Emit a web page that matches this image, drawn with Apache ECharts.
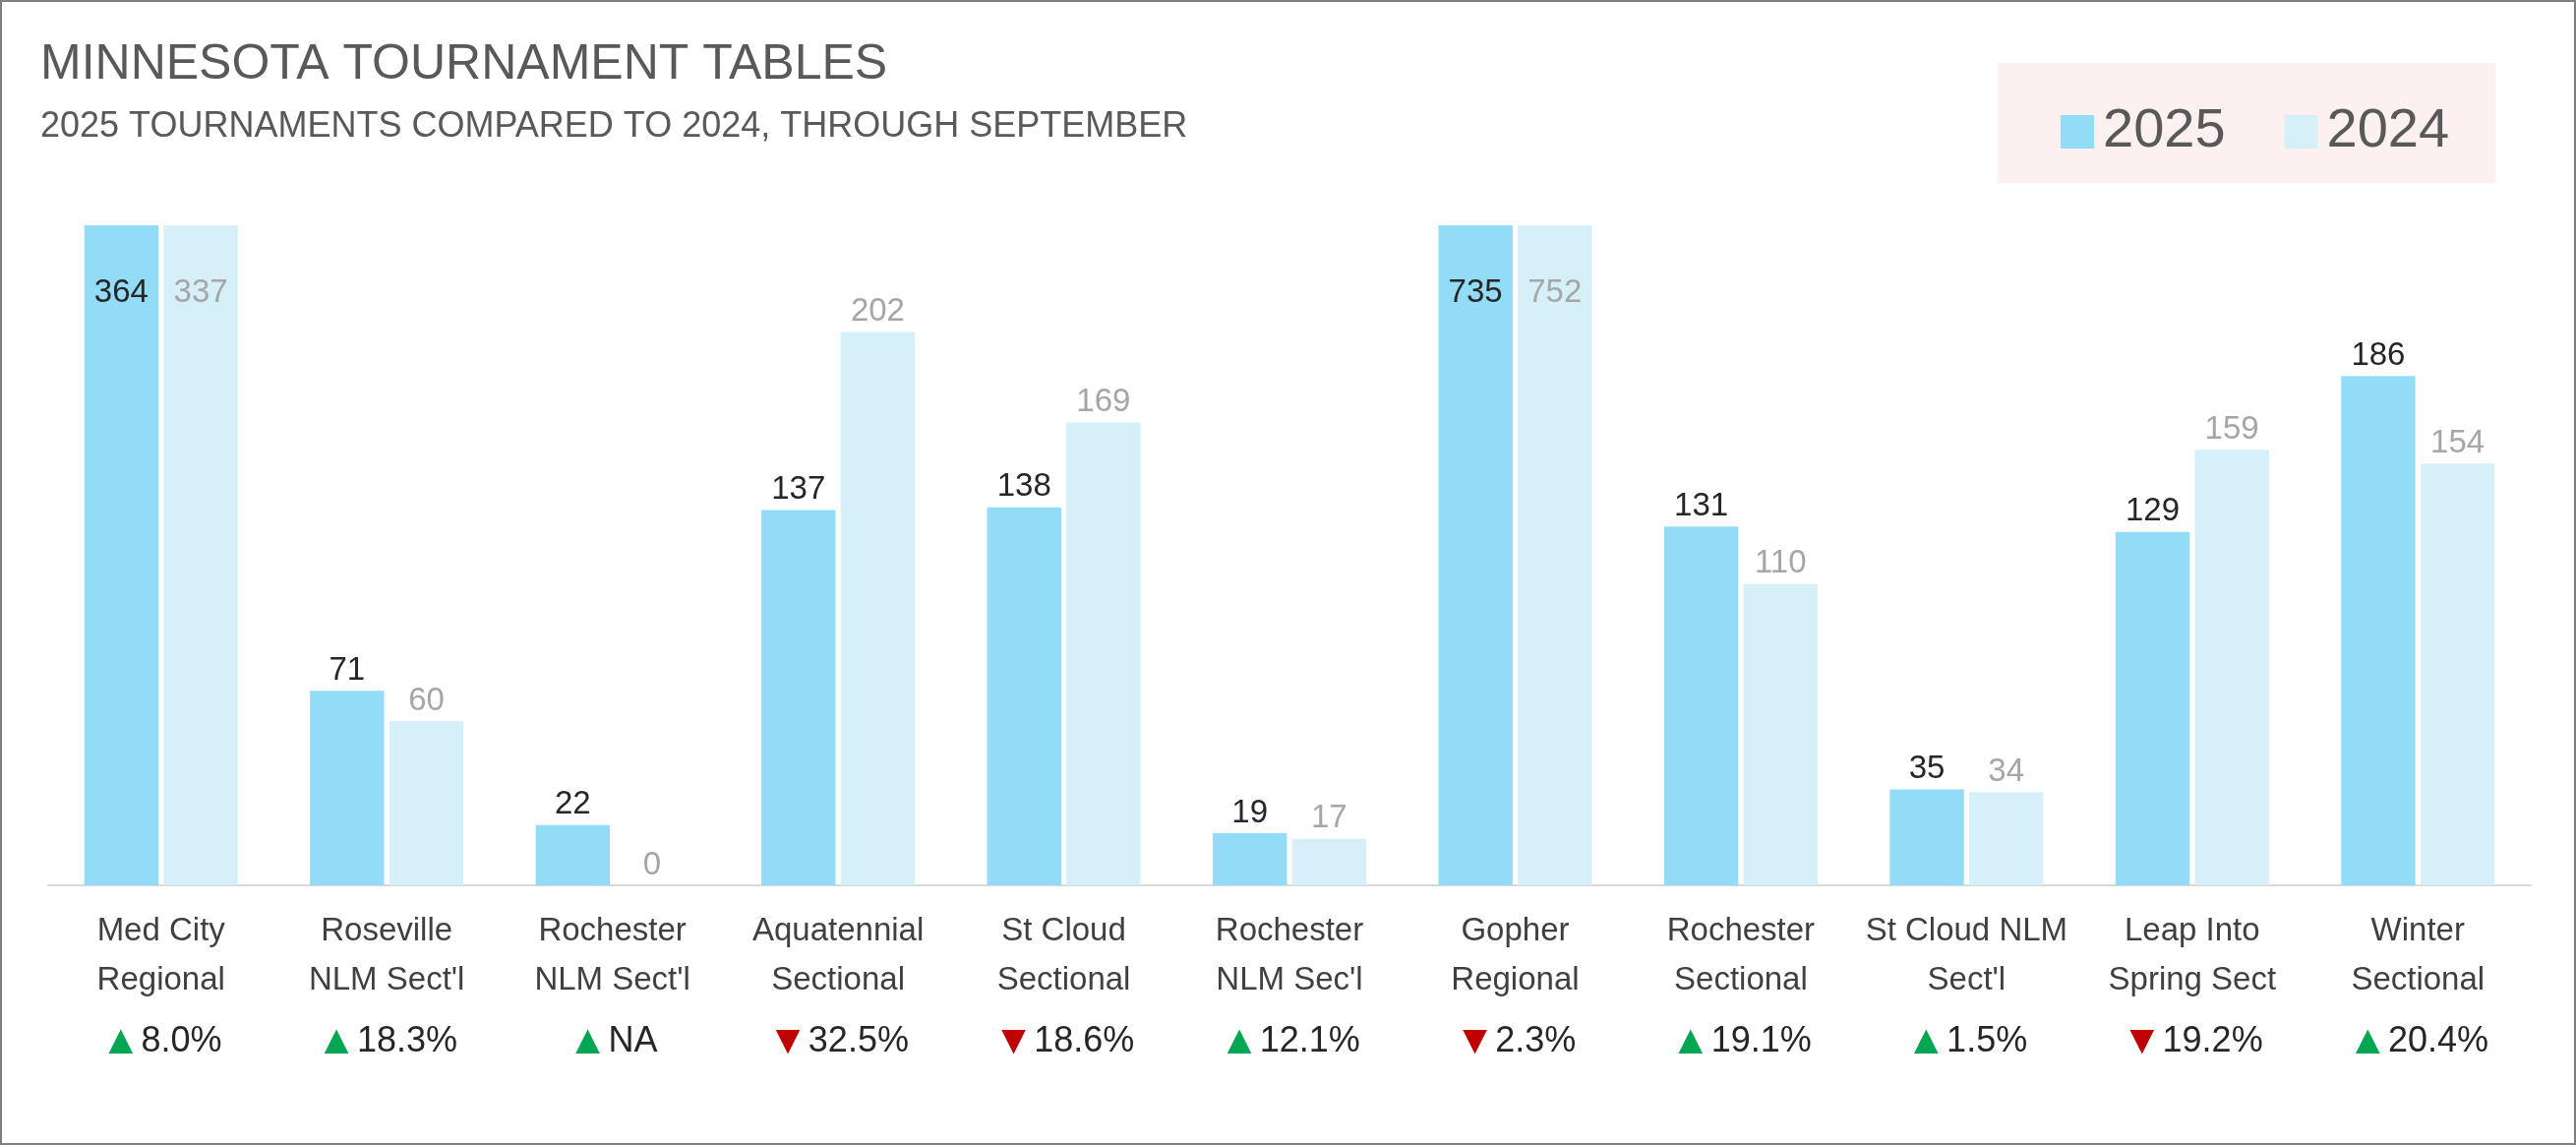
<!DOCTYPE html>
<html><head><meta charset="utf-8">
<script src="https://cdn.jsdelivr.net/npm/echarts@6/dist/echarts.min.js"></script>
<style>html,body{margin:0;padding:0;background:#fff}#c{width:2619px;height:1164px;box-sizing:border-box;border:2px solid #7f7f7f}</style>
</head><body><div id="c"></div>
<script>
const categories = ["Med City\nRegional","Roseville\nNLM Sect'l","Rochester\nNLM Sect'l","Aquatennial\nSectional","St Cloud\nSectional","Rochester\nNLM Sec'l","Gopher\nRegional","Rochester\nSectional","St Cloud NLM\nSect'l","Leap Into\nSpring Sect","Winter\nSectional"];
const values2025 = [364,71,22,137,138,19,735,131,35,129,186];
const values2024 = [337,60,0,202,169,17,752,110,34,159,154];
const changeText = ["8.0%","18.3%","NA","32.5%","18.6%","12.1%","2.3%","19.1%","1.5%","19.2%","20.4%"];
const changeUp = [true,true,true,false,false,true,false,true,true,false,true];
const axisMax = 241;

const chart = echarts.init(document.getElementById('c'));
function mk(vals){
  return vals.map(v => v > axisMax ? {value:v, label:{position:'insideTop', distance:52}} : v);
}
chart.setOption({
  animation:false,
  title:[
    {text:'MINNESOTA TOURNAMENT TABLES', left:34, top:34, textStyle:{fontFamily:'Liberation Sans', fontWeight:'normal', fontSize:50, color:'#595959'}},
    {text:'2025 TOURNAMENTS COMPARED TO 2024, THROUGH SEPTEMBER', left:34, top:104, textStyle:{fontFamily:'Liberation Sans', fontWeight:'normal', fontSize:36, color:'#595959'}}
  ],
  graphic:[{type:'rect', left:2029, top:62, shape:{width:506, height:122}, style:{fill:'#fcf0f0'}}],
  legend:{data:['2025','2024'], icon:'rect', left:2088, top:99, itemWidth:34, itemHeight:34, itemGap:60,
    textStyle:{fontFamily:'Liberation Sans', fontSize:56, color:'#595959', padding:[0,0,0,4]}},
  grid:{left:47, right:44, top:227, bottom:262, containLabel:false},
  xAxis:{type:'category', data:categories,
    axisLine:{lineStyle:{color:'#d9d9d9', width:2}}, axisTick:{show:false},
    axisLabel:{interval:0, margin:22, fontFamily:'Liberation Sans', fontSize:33, color:'#404040', lineHeight:50,
      formatter:(v,i)=>{
        return v + '\n{sp|}\n' + (changeUp[i] ? '{up|▲}' : '{dn|▼}') + '{p|' + changeText[i] + '}';
      },
      rich:{sp:{lineHeight:12, fontSize:10}, up:{color:'#00a651', fontSize:42, lineHeight:50}, dn:{color:'#c00000', fontSize:42, lineHeight:50}, p:{fontSize:36, color:'#262626', fontFamily:'Liberation Sans', lineHeight:50}}
    }},
  yAxis:{type:'value', min:0, max:axisMax, show:false, splitLine:{show:false}},
  series:[
    {name:'2025', type:'bar', data:mk(values2025), itemStyle:{color:'#92dcf8'}, barGap:'7%', barCategoryGap:'32%',
      label:{show:true, position:'top', distance:4, fontFamily:'Liberation Sans', fontSize:33, color:'#262626'}},
    {name:'2024', type:'bar', data:mk(values2024), itemStyle:{color:'#d6f0fa'},
      label:{show:true, position:'top', distance:4, fontFamily:'Liberation Sans', fontSize:33, color:'#a6a6a6'}}
  ]
});
</script></body></html>
